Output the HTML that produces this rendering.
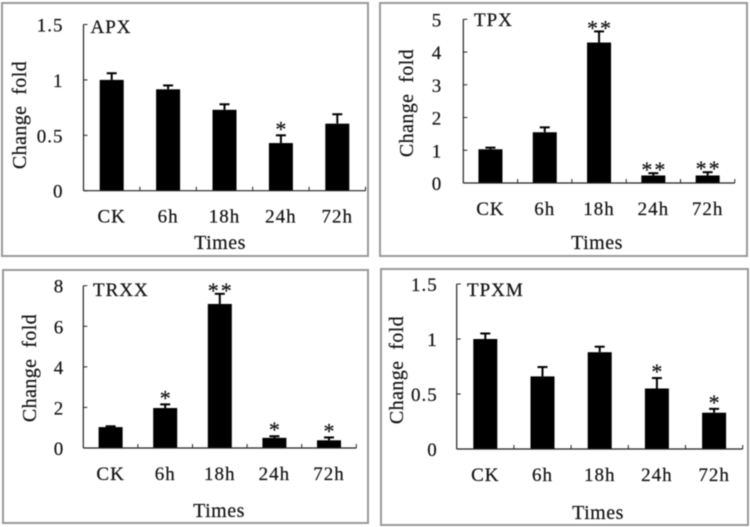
<!DOCTYPE html>
<html lang="en">
<head>
<meta charset="utf-8">
<title>Change fold charts</title>
<style>
html,body{margin:0;padding:0;background:#fff;width:750px;height:527px;overflow:hidden}
svg{display:block;filter:blur(0.4px)}
text{font-family:"Liberation Serif",serif;fill:#111;stroke:#111;stroke-width:0.2px;font-size:19px;letter-spacing:1px}
</style>
</head>
<body>
<svg id="chart" width="750" height="527" viewBox="0 0 750 527" xmlns="http://www.w3.org/2000/svg"></svg>
<script>
const categories = ['CK', '6h', '18h', '24h', '72h'];

const apxValues = [1, 0.915, 0.73, 0.43, 0.605];
const apxErrorTops = [1.06, 0.95, 0.78, 0.5, 0.69];
const apxMarks = ['', '', '', '*', ''];
const apxTicks = ['0', '0.5', '1', '1.5'];

const tpxValues = [1.03, 1.55, 4.29, 0.23, 0.23];
const tpxErrorTops = [1.08, 1.7, 4.63, 0.3, 0.33];
const tpxMarks = ['', '', '**', '**', '**'];
const tpxTicks = ['0', '1', '2', '3', '4', '5'];

const trxxValues = [1.03, 1.97, 7.1, 0.5, 0.38];
const trxxErrorTops = [1.07, 2.15, 7.6, 0.58, 0.52];
const trxxMarks = ['', '*', '**', '*', '*'];
const trxxTicks = ['0', '2', '4', '6', '8'];

const tpxmValues = [1, 0.66, 0.88, 0.55, 0.33];
const tpxmErrorTops = [1.05, 0.745, 0.93, 0.645, 0.365];
const tpxmMarks = ['', '', '', '*', '*'];
const tpxmTicks = ['0', '0.5', '1', '1.5'];

const panels = [
  {name:'apx', title:'APX', values:apxValues, tops:apxErrorTops, marks:apxMarks, ticks:apxTicks,
   frame:[2,3,366,253], x0:83.5, step:56.4, y0:190.7, yTop:24.5,
   titleAt:[90.5,33], catY:222.5, timesAt:[220,249], yTitleAt:[26,115], tickGap:20},
  {name:'tpx', title:'TPX', values:tpxValues, tops:tpxErrorTops, marks:tpxMarks, ticks:tpxTicks,
   frame:[380,3,367,253], x0:463.3, step:54.3, y0:183, yTop:19.3,
   titleAt:[474,26], catY:215, timesAt:[597,249], yTitleAt:[413,103], tickGap:21},
  {name:'trxx', title:'TRXX', values:trxxValues, tops:trxxErrorTops, marks:trxxMarks, ticks:trxxTicks,
   frame:[3,270,365,253], x0:83.3, step:54.6, y0:448, yTop:285.7,
   titleAt:[93,296], catY:480, timesAt:[219,517], yTitleAt:[36,368], tickGap:19},
  {name:'tpxm', title:'TPXM', values:tpxmValues, tops:tpxmErrorTops, marks:tpxmMarks, ticks:tpxmTicks,
   frame:[381,269,367,256], x0:456.7, step:57.2, y0:449, yTop:284,
   titleAt:[467,296], catY:481, timesAt:[598,519], yTitleAt:[403,370], tickGap:19}
];

const NS = 'http://www.w3.org/2000/svg';
const root = document.getElementById('chart');

function make(parent, tag, attrs, txt) {
  const el = document.createElementNS(NS, tag);
  for (const k in attrs) el.setAttribute(k, attrs[k]);
  if (txt !== undefined) el.textContent = txt;
  parent.appendChild(el);
  return el;
}

panels.forEach(function (p) {
  const maxV = parseFloat(p.ticks[p.ticks.length - 1]);
  const yScale = function (v) { return p.y0 - (v / maxV) * (p.y0 - p.yTop); };
  const xCenter = function (i) { return p.x0 + p.step * (i + 0.5); };
  const xEnd = p.x0 + p.step * categories.length;

  const g = make(root, 'g', {});
  
  

  const frame = make(g, 'rect', {x:p.frame[0], y:p.frame[1], width:p.frame[2], height:p.frame[3], fill:'#fff', stroke:'#9a9a9a', 'stroke-width':2});
  
  

  p.values.forEach(function (v, i) {
    const cx = xCenter(i);
    const top = yScale(v);
    const errY = yScale(p.tops[i]);

    const stem = make(g, 'line', {x1:cx, x2:cx, y1:top, y2:errY, stroke:'#000', 'stroke-width':2});
    
    

    const cap = make(g, 'line', {x1:cx - 5, x2:cx + 5, y1:errY, y2:errY, stroke:'#000', 'stroke-width':2});
    
    

    const bar = make(g, 'rect', {x:cx - 12, y:top, width:24, height:p.y0 - top, fill:'#000'});
    
    

    if (p.marks[i]) {
      const isDouble = p.marks[i].length > 1;
      const star = make(g, 'text', {x:cx + (isDouble ? 1 : 0), y:errY + (isDouble ? 4 : 1), 'text-anchor':'middle', style:'font-size:22px;letter-spacing:' + (isDouble ? 2 : 0) + 'px'}, p.marks[i]);
      
      
    }

    const cat = make(g, 'text', {x:cx, y:p.catY, 'text-anchor':'middle'}, categories[i]);
    
    
  });

  const yAxis = make(g, 'line', {x1:p.x0, x2:p.x0, y1:p.yTop, y2:p.y0, stroke:'#222', 'stroke-width':1.2});
  
  

  const xAxis = make(g, 'line', {x1:p.x0, x2:xEnd, y1:p.y0, y2:p.y0, stroke:'#222', 'stroke-width':1.2});
  
  

  for (let i = 1; i <= categories.length; i++) {
    const tx = p.x0 + p.step * i;
    const tick = make(g, 'line', {x1:tx, x2:tx, y1:p.y0, y2:p.y0 - 4, stroke:'#222', 'stroke-width':1});
    
    
  }

  p.ticks.forEach(function (t) {
    const ty = yScale(parseFloat(t));
    const tick = make(g, 'line', {x1:p.x0, x2:p.x0 + 4, y1:ty, y2:ty, stroke:'#222', 'stroke-width':1});
    
    
    const label = make(g, 'text', {x:p.x0 - p.tickGap, y:ty + 7, 'text-anchor':'end'}, t);
    
    
  });

  const title = make(g, 'text', {x:p.titleAt[0], y:p.titleAt[1]}, p.title);
  
  

  const times = make(g, 'text', {x:p.timesAt[0], y:p.timesAt[1], 'text-anchor':'middle', style:'font-size:20px;letter-spacing:0.5px'}, 'Times');
  
  

  const yTitle = make(g, 'text', {x:0, y:0, 'text-anchor':'middle', 'xml:space':'preserve', style:'white-space:pre;font-size:20px;letter-spacing:0.4px',
    transform:'translate(' + p.yTitleAt[0] + ',' + p.yTitleAt[1] + ') rotate(-90)'}, 'Change  fold');
  
  
});
</script>
</body>
</html>
